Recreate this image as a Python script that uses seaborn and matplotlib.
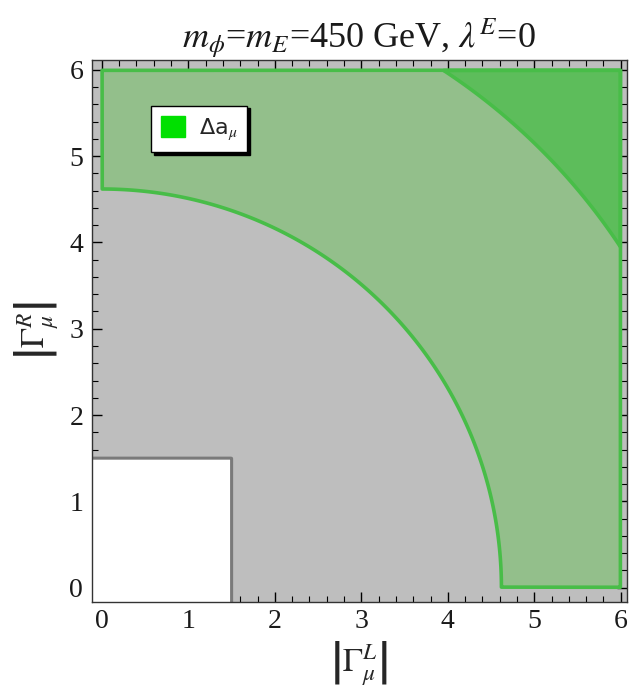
import numpy as np
import seaborn as sns
import matplotlib.pyplot as plt
from matplotlib.ticker import MultipleLocator
from matplotlib.patches import Patch

# Region boundaries
inner_radius = 4.62      # lower edge of the Delta a_mu band
outer_radius = 7.18      # where the band gets darker (top right corner)
excluded_corner = 1.5    # white square in lower left
scan_limit = 6.0         # green region covers [0, 6] x [0, 6]
x_limits = [-0.12, 6.07]
y_limits = [-0.17, 6.12]
tick_values = [0, 1, 2, 3, 4, 5, 6]

sns.set_style("ticks")
plt.rcParams['font.family'] = ['Liberation Serif', 'DejaVu Serif']
plt.rcParams['mathtext.fontset'] = 'stix'

fig = plt.figure(figsize=(6.29, 6.93), dpi=100)
ax = fig.add_axes([0.1455, 0.131, 0.851, 0.783])
ax.set_facecolor('#bebebe')

# grid over the whole frame
gx = np.linspace(x_limits[0], x_limits[1], 900)
gy = np.linspace(y_limits[0], y_limits[1], 900)
X, Y = np.meshgrid(gx, gy)

# white excluded square in the lower left corner
corner = np.maximum(X, Y)
ax.contourf(X, Y, corner, levels=[-10, excluded_corner], colors=['white'], zorder=1)
ax.contour(X, Y, corner, levels=[excluded_corner], colors=['#7a7a7a'], linewidths=2.2, zorder=2)

# Delta a_mu band, only inside the scanned square
inside = (X >= 0) & (X <= scan_limit) & (Y >= 0) & (Y <= scan_limit)
R = np.where(inside, np.hypot(X, Y), 0.0)
ax.contourf(X, Y, R, levels=[inner_radius, outer_radius], colors=['#93bf8b'], zorder=3)
ax.contourf(X, Y, R, levels=[outer_radius, 20], colors=['#5dbd5b'], zorder=3)
ax.contour(X, Y, R, levels=[inner_radius, outer_radius], colors=['#48bd48'], linewidths=2.6, zorder=4)

ax.set_xlim(x_limits)
ax.set_ylim(y_limits)
ax.set_xticks(tick_values)
ax.set_yticks(tick_values)
ax.xaxis.set_minor_locator(MultipleLocator(0.2))
ax.yaxis.set_minor_locator(MultipleLocator(0.2))
ax.tick_params(which='both', direction='in', top=True, right=True, colors='black',
               labelsize=20, labelcolor='#1a1a1a')
ax.tick_params(which='major', length=7, width=1)
ax.tick_params(which='minor', length=4, width=0.8)
ax.tick_params(axis='x', pad=5)
ax.tick_params(axis='y', pad=6)
for s in ax.spines.values():
    s.set_linewidth(1.0)
    s.set_color('#333333')
    s.set_zorder(5)

ax.set_title(r'$m_\phi$=$m_E$=450 GeV, $\lambda^E$=0', fontsize=26, pad=7, color='#1a1a1a')
ax.set_xlabel(r'$\left|\Gamma_\mu^L\right|$', fontsize=24, labelpad=4)
ax.set_ylabel(r'$\left|\Gamma_\mu^R\right|$', fontsize=24, labelpad=6)

handle = Patch(facecolor='#00e000', edgecolor='#00e000')
leg = ax.legend([handle], [r'Δa$_\mu$'], loc='upper left', bbox_to_anchor=(0.111, 0.915),
                fancybox=False, framealpha=1, edgecolor='black', shadow={'color': 'black', 'alpha': 1.0},
                prop={'family': 'DejaVu Sans', 'size': 16}, handlelength=1.1, handleheight=1.1,
                borderpad=0.45, handletextpad=0.6, borderaxespad=0)
leg.get_frame().set_linewidth(1.0)
leg.set_zorder(6)

fig.savefig('out.png', dpi=100)
